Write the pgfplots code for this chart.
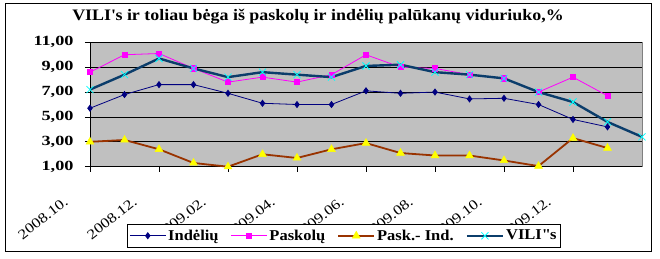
\documentclass[border=0pt]{standalone}
\usepackage{fontspec}
\setmainfont{Liberation Serif}
\newfontfamily\titlefont[FakeStretch=1.12]{Liberation Serif}
\newfontfamily\ylabfont[FakeStretch=1.3]{Liberation Serif}
\newfontfamily\legfont[FakeStretch=1.1]{Liberation Serif}
\newfontfamily\xlabfont[FakeStretch=1.2]{Liberation Serif}
\usepackage{pgfplots}
\pgfplotsset{compat=1.18}
\definecolor{plotgray}{HTML}{C0C0C0}
\definecolor{bordgray}{HTML}{808080}
\definecolor{navyc}{HTML}{000080}
\definecolor{magc}{HTML}{FF00FF}
\definecolor{brownc}{HTML}{993300}
\definecolor{vilic}{HTML}{0B3D6B}
\definecolor{cyanc}{HTML}{00FFFF}
\definecolor{yelc}{HTML}{FFFF00}
\begin{document}
\begin{tikzpicture}
\useasboundingbox (-90pt,-91.3pt) rectangle (570pt,166.7pt);
\fill[white] (-90pt,-91.3pt) rectangle (570pt,166.7pt);
\draw[black,line width=1pt] (-84pt,-84.3pt) rectangle (561pt,163.7pt);
\begin{axis}[
  scale only axis,
  width=552pt, height=124.4pt,
  xmin=0, xmax=16, ymin=1, ymax=11,
  axis x line*=bottom, axis y line*=left,
  axis line style={black, line width=0.8pt, -},
  axis background/.style={fill=plotgray, draw=bordgray, line width=0.8pt},
  ytick={1,3,5,7,9,11},
  ymajorgrids, grid style={black, line width=0.8pt},
  xtick={0,2,4,6,8,10,12,14},
  xticklabels={2008.10.,2008.12.,2009.02.,2009.04.,2009.06.,2009.08.,2009.10.,2009.12.},
  x tick label style={xshift=-21pt, yshift=-32pt, rotate=38, anchor=base east, font=\xlabfont\fontsize{14}{16}\selectfont, inner sep=0pt},
  y tick label style={xshift=-8pt, font=\ylabfont\fontsize{14}{16}\selectfont\bfseries},
  yticklabel style={/pgf/number format/.cd, fixed, fixed zerofill, precision=2, use comma, assume math mode=true},
  tick align=outside,
  major tick length=5pt,
  tick style={black, line width=0.8pt},
  clip=false,
  legend columns=-1,
  legend style={at={(0.067,-0.46)}, anchor=north west, draw=black, fill=white, line width=0.8pt,
    font=\legfont\fontsize{15}{17}\selectfont\bfseries, inner xsep=2pt, inner ysep=3.5pt,
    /tikz/every even column/.append style={column sep=10pt}},
  legend image code/.code={\draw[mark repeat=2,mark phase=2,#1] plot coordinates {(0pt,0pt) (18pt,0pt) (36pt,0pt)};},
]
\addplot[navyc, line width=0.8pt, mark=diamond*, mark size=3pt, mark options={fill=navyc, draw=navyc}] coordinates {
(0,5.7) (1,6.8) (2,7.6) (3,7.6) (4,6.9) (5,6.1) (6,6.0) (7,6.0) (8,7.1) (9,6.9) (10,7.0) (11,6.45) (12,6.5) (13,6.0) (14,4.8) (15,4.2)};
\addlegendentry{Indėlių}
\addplot[magc, line width=0.8pt, mark=square*, mark size=2.6pt, mark options={fill=magc, draw=magc}] coordinates {
(0,8.6) (1,10.0) (2,10.1) (3,8.9) (4,7.8) (5,8.2) (6,7.8) (7,8.4) (8,10.0) (9,9.0) (10,8.9) (11,8.4) (12,8.1) (13,7.0) (14,8.2) (15,6.7)};
\addlegendentry{Paskolų}
\addplot[brownc, line width=1.8pt, mark=triangle*, mark size=4.5pt, mark options={fill=yelc, draw=yelc, line width=0.5pt}] coordinates {
(0,3.0) (1,3.15) (2,2.4) (3,1.3) (4,1.0) (5,2.0) (6,1.7) (7,2.4) (8,2.9) (9,2.1) (10,1.9) (11,1.9) (12,1.5) (13,1.05) (14,3.3) (15,2.5)};
\addlegendentry{Pask.- Ind.}
\addplot[vilic, line width=2.4pt, mark=x, mark size=5pt, mark options={draw=cyanc, line width=0.8pt}] coordinates {
(0,7.2) (1,8.4) (2,9.7) (3,8.9) (4,8.2) (5,8.6) (6,8.4) (7,8.2) (8,9.1) (9,9.2) (10,8.6) (11,8.4) (12,8.1) (13,7.0) (14,6.2) (15,4.6) (16,3.4)};
\addlegendentry{VILI\textquotedbl s}
\end{axis}
\node[font=\titlefont\fontsize{16}{18}\selectfont\bfseries] at (228pt,149.7pt) {VILI\textquotesingle s ir toliau bėga iš paskolų ir indėlių palūkanų viduriuko,\%};
\end{tikzpicture}
\end{document}
